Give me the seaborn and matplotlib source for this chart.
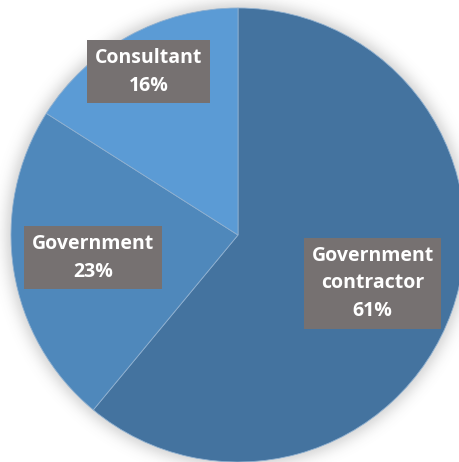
import numpy as np
import matplotlib
matplotlib.use("Agg")
import matplotlib.pyplot as plt
import seaborn as sns

# Survey breakdown by employer type
categories = ["Government\ncontractor", "Government", "Consultant"]
shares = [61, 23, 16]
slice_colors = ["#44739F", "#4F88BB", "#5B9BD5"]
label_radius = [0.63, 0.645, 0.82]

sns.set_style("white")
plt.rcParams["font.family"] = ["Open Sans", "DejaVu Sans"]

W, H = 459, 462
fig = plt.figure(figsize=(W / 100, H / 100), dpi=100)
ax = fig.add_axes([0, 0, 1, 1])
ax.set_xlim(0, W)
ax.set_ylim(0, H)
ax.set_aspect("equal")
ax.axis("off")

cx, cy, r = 238, H - 235, 227

# soft drop shadow around the disc
yy, xx = np.mgrid[0:H, 0:W] + 0.5
d = np.hypot(xx - cx, yy - cy)
alpha = np.where(d > r - 4, 0.24 * np.exp(-((d - r + 4) / 12.0) ** 2), 0.24)
shadow = np.zeros((H, W, 4))
shadow[..., :3] = 0.35
shadow[..., 3] = alpha
ax.imshow(shadow, extent=(0, W, 0, H), origin="lower", zorder=0, interpolation="bilinear")

palette = sns.color_palette(slice_colors)
wedges, _ = ax.pie(shares, colors=palette, startangle=90, counterclock=False,
                   center=(cx, cy), radius=r, frame=True,
                   wedgeprops=dict(linewidth=0.6, edgecolor="#8fb0d0"))
for w in wedges:
    w.set_zorder(1)

for w, name, val, k in zip(wedges, categories, shares, label_radius):
    mid = np.deg2rad((w.theta1 + w.theta2) / 2)
    tx = cx + k * r * np.cos(mid)
    ty = cy + k * r * np.sin(mid)
    ax.text(tx, ty, f"{name}\n{val}%", ha="center", va="center",
            color="white", fontsize=14, fontweight="bold", linespacing=1.5,
            zorder=3,
            bbox=dict(boxstyle="square,pad=0.4", facecolor="#767171", edgecolor="none"))

ax.set_xlim(0, W)
ax.set_ylim(0, H)
fig.savefig("out.png", dpi=100)
